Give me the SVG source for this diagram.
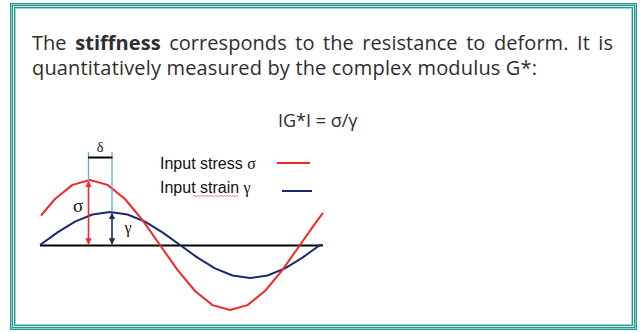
<svg xmlns="http://www.w3.org/2000/svg" width="642" height="333" viewBox="0 0 642 333">
<defs>
<style>
.body{font-family:"Open Sans","Noto Sans","DejaVu Sans",sans-serif;font-size:20px;fill:#2e2e2e}
.bold{font-weight:bold}
.leg{font-family:"Liberation Sans",Arial,sans-serif;font-size:16px;fill:#111}
.greek{font-family:"Liberation Serif","Times New Roman",serif}
.fr{fill:none}
.red{fill:none;stroke:#f02828;stroke-width:2;stroke-linejoin:round}
.navy{fill:none;stroke:#1c2a6b;stroke-width:2;stroke-linejoin:round}
.sky{stroke:#5aabe3;stroke-width:1.3}
</style>
<marker id="ar" viewBox="0 0 10 10" refX="9" refY="5" markerWidth="4" markerHeight="4" orient="auto-start-reverse" markerUnits="strokeWidth"><path d="M0,0 L10,5 L0,10 z" fill="#f02828"/></marker>
<marker id="an" viewBox="0 0 10 10" refX="9" refY="5" markerWidth="4" markerHeight="4" orient="auto-start-reverse" markerUnits="strokeWidth"><path d="M0,0 L10,5 L0,10 z" fill="#1c2a6b"/></marker>
</defs>
<rect width="642" height="333" fill="#ffffff"/>
<g id="frame" class="fr">
<rect x="10.5" y="3.5" width="626" height="326" stroke="#2a948f"/>
<rect x="11.5" y="4.5" width="624" height="324" stroke="#8fcfcb"/>
<rect x="12.5" y="5.5" width="622" height="322" stroke="#2a948f"/>
<rect x="13.5" y="6.5" width="620" height="320" stroke="#d4efed"/>
<rect x="14.5" y="7.5" width="618" height="318" stroke="#2a948f"/>
<rect x="15.5" y="8.5" width="616" height="316" stroke="#9fd6d2"/>
</g>
<g id="intro" class="body">
<text x="32" y="49.5" style="word-spacing:3.3px" textLength="581" lengthAdjust="spacing">The <tspan class="bold">stiffness</tspan> corresponds to the resistance to deform. It is</text>
<text x="32" y="75" textLength="505" lengthAdjust="spacing">quantitatively measured by the complex modulus G*:</text>
</g>
<g id="formula" class="body" style="font-size:18px">
<text x="278" y="127">IG*I = σ/γ</text>
</g>
<g id="legend">
<text x="160" y="169" class="leg">Input stress <tspan class="greek">σ</tspan></text>
<text x="160" y="193" class="leg">Input strain <tspan class="greek">γ</tspan></text>
<path d="M193,196.5 l1.5,-1 l1.5,1 l1.5,-1 l1.5,1 l1.5,-1 l1.5,1 l1.5,-1 l1.5,1 l1.5,-1 l1.5,1 l1.5,-1 l1.5,1 l1.5,-1 l1.5,1 l1.5,-1 l1.5,1 l1.5,-1 l1.5,1 l1.5,-1 l1.5,1 l1.5,-1 l1.5,1 l1.5,-1 l1.5,1 l1.5,-1 l1.5,1 l1.5,-1 l1.5,1 l1.5,-1 l1.5,1" fill="none" stroke="#e85050" stroke-width="0.7"/>
<line x1="277" y1="163" x2="310" y2="163" class="red"/>
<line x1="282" y1="191" x2="312" y2="191" class="navy"/>
</g>
<g id="chart">
<line x1="40" y1="245.5" x2="323" y2="245.5" stroke="#000" stroke-width="2"/>
<polyline id="strain-curve" class="navy" points="40,245 57.5,232.4 75,221.7 92.5,214.5 110,212 127.5,214.5 145,221.7 162.5,232.4 180,245 197.5,257.6 215,268.3 232.5,275.5 250,278 267.5,275.5 285,268.3 302.5,257.6 320,245 322,245"/>
<polyline id="stress-curve" class="red" points="41,215.5 55,199 72.5,184.9 90,180 107.5,184.9 125,199 142.5,220.1 160,245 177.5,269.9 195,291 212.5,305.1 230,310 247.5,305.1 265,291 282.5,269.9 300,245 317.5,220.1 323,212.9"/>
<line x1="88.5" y1="152" x2="88.5" y2="181" class="sky"/>
<line x1="112" y1="152" x2="112" y2="212" class="sky"/>
<line x1="88" y1="157.5" x2="112.5" y2="157.5" stroke="#000" stroke-width="2"/>
<text x="100" y="152" class="greek" font-size="14" text-anchor="middle" fill="#111">δ</text>
<line x1="88.5" y1="181.5" x2="88.5" y2="244" stroke="#f02828" stroke-width="1.6" marker-start="url(#ar)" marker-end="url(#ar)"/>
<line x1="112" y1="213.5" x2="112" y2="244" stroke="#1c2a6b" stroke-width="1.6" marker-start="url(#an)" marker-end="url(#an)"/>
<text x="78" y="212" class="greek" font-size="19" text-anchor="middle" fill="#111">σ</text>
<text x="128" y="233" class="greek" font-size="16" text-anchor="middle" fill="#111">γ</text>
</g>
</svg>
